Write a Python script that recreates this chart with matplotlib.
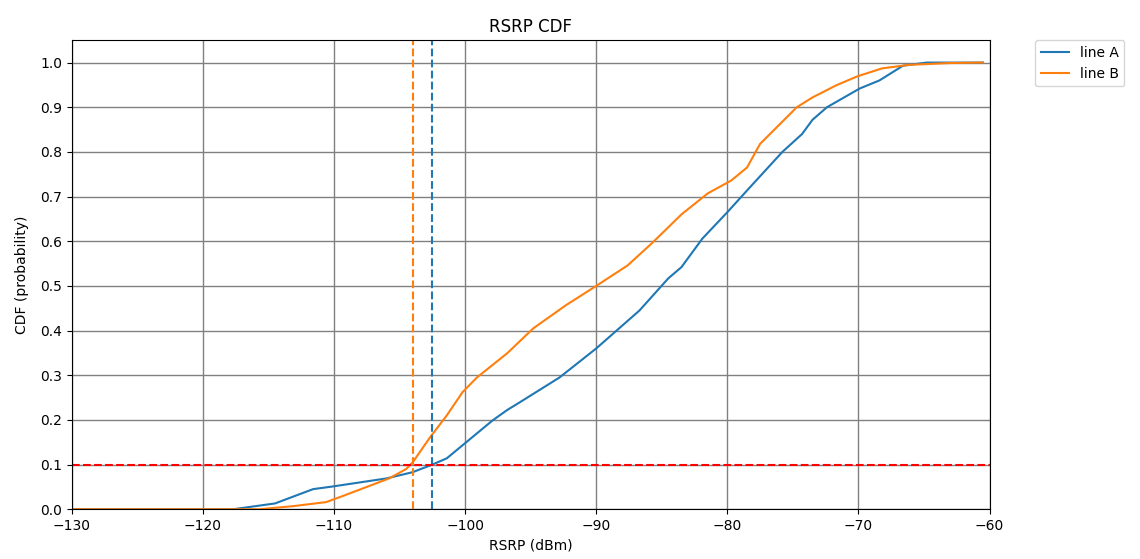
import matplotlib
matplotlib.use("Agg")
import matplotlib.pyplot as plt

# CDF samples for the two RSRP series (dBm, probability)
rsrp_a = [-130, -117.7, -114.5, -111.6, -110.1, -106.0, -104.0, -102.5, -101.4,
          -100.0, -97.9, -96.8, -95.8, -92.8, -90.0, -86.7, -84.5, -83.5, -81.9,
          -80.0, -78.3, -75.8, -74.3, -73.5, -72.4, -69.9, -68.4, -66.6, -64.8, -60.5]
cdf_a = [0.0, 0.0, 0.013, 0.045, 0.051, 0.069, 0.083, 0.10, 0.114,
         0.148, 0.199, 0.222, 0.24, 0.295, 0.36, 0.445, 0.517, 0.542, 0.606,
         0.665, 0.72, 0.80, 0.84, 0.872, 0.90, 0.942, 0.96, 0.993, 1.0, 1.0]

rsrp_b = [-130, -115.7, -113.1, -110.6, -109.3, -107.5, -105.8, -104.5, -104.0,
          -102.7, -101.4, -100.2, -99.1, -96.8, -94.8, -92.3, -90.0, -87.6,
          -85.7, -83.5, -81.5, -79.7, -78.5, -77.5, -74.7, -73.5, -71.7, -70.1,
          -68.2, -66.1, -63.0, -60.5]
cdf_b = [0.0, 0.0, 0.007, 0.016, 0.03, 0.05, 0.069, 0.09, 0.105,
         0.16, 0.21, 0.262, 0.295, 0.349, 0.405, 0.457, 0.50, 0.546,
         0.597, 0.66, 0.707, 0.736, 0.765, 0.818, 0.90, 0.922, 0.949, 0.969,
         0.987, 0.995, 0.999, 1.0]

# 10th percentile markers
p10_a = -102.5
p10_b = -104.0
p10_level = 0.1

fig = plt.figure(figsize=(11.4, 5.59), dpi=100)
ax = fig.add_axes([0.063, 0.089, 0.805, 0.839])

ax.plot(rsrp_a, cdf_a, color="#1f77b4", label="line A")
ax.plot(rsrp_b, cdf_b, color="#ff7f0e", label="line B")
ax.axvline(p10_a, color="#1f77b4", linestyle="--")
ax.axvline(p10_b, color="#ff7f0e", linestyle="--")
ax.axhline(p10_level, color="red", linestyle="--")

ax.set_xlim(-130, -60)
ax.set_ylim(0, 1.05)
ax.set_yticks([i / 10 for i in range(11)])
ax.grid(True, color="grey", linewidth=1)
ax.set_axisbelow(True)
ax.set_title("RSRP CDF")
ax.set_xlabel("RSRP (dBm)")
ax.set_ylabel("CDF (probability)", labelpad=8)
ax.legend(loc="upper left", bbox_to_anchor=(1.05, 1.0), borderaxespad=0)

fig.savefig("out.png", dpi=100)
